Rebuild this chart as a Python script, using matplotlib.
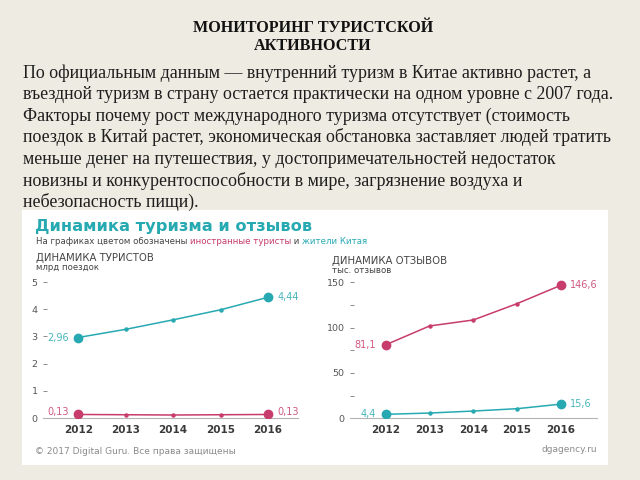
#!/usr/bin/env python
# -*- coding: utf-8 -*-

"""
Мониторинг туристской активности: слайд с двумя линейными графиками
"""

import matplotlib.pyplot as plt
from matplotlib.patches import Rectangle

# 数据
years = [2012, 2013, 2014, 2015, 2016]
tourists_china = [2.96, 3.26, 3.61, 3.98, 4.44]      # жители Китая, млрд поездок
tourists_foreign = [0.13, 0.12, 0.11, 0.12, 0.13]    # иностранные туристы
reviews_foreign = [81.1, 101.8, 108.4, 126.4, 146.6]  # тыс. отзывов
reviews_china = [4.4, 5.8, 8.0, 10.6, 15.6]

title_lines = ['МОНИТОРИНГ ТУРИСТСКОЙ', 'АКТИВНОСТИ']
body_lines = [
    'По официальным данным — внутренний туризм в Китае активно растет, а',
    'въездной туризм в страну остается практически на одном уровне с 2007 года.',
    'Факторы почему рост международного туризма отсутствует (стоимость',
    'поездок в Китай растет, экономическая обстановка заставляет людей тратить',
    'меньше денег на путешествия, у достопримечательностей недостаток',
    'новизны и конкурентоспособности в мире, загрязнение воздуха и',
    'небезопасность пищи).',
]

BG = '#eeebe2'
TEAL = '#27a9b1'
PINK = '#c73c6c'
GRAY = '#8a8a8a'
W, H = 640, 480


def fx(px):
    return px / W


def fy(py):
    return 1 - py / H


def draw_series(ax, x, y, color, lbl_left, lbl_right, dy_left=0, dy_right=0):
    ax.plot(x, y, '-', color=color, lw=1.1, zorder=2)
    ax.plot(x[1:-1], y[1:-1], 'o', color=color, ms=2.2, zorder=3)
    ax.plot([x[0], x[-1]], [y[0], y[-1]], 'o', color=color, ms=6, zorder=4)
    ax.annotate(lbl_left, (x[0], y[0]), xytext=(-7, dy_left), textcoords='offset points',
                ha='right', va='center', color=color, fontsize=7, alpha=0.85)
    ax.annotate(lbl_right, (x[-1], y[-1]), xytext=(7, dy_right), textcoords='offset points',
                ha='left', va='center', color=color, fontsize=7, alpha=0.85)


def style_axes(ax):
    for s in ['top', 'right', 'left']:
        ax.spines[s].set_visible(False)
    ax.spines['bottom'].set_color('#b5b5b5')
    ax.spines['bottom'].set_linewidth(0.8)
    ax.set_facecolor('none')
    ax.set_zorder(2)
    ax.set_xticks(years)
    ax.set_xticklabels([str(v) for v in years], fontsize=7.5, color='#3a3a3a', fontweight='semibold')
    ax.tick_params(axis='x', length=0, pad=5)
    ax.tick_params(axis='y', which='both', direction='in', length=3, width=0.7,
                   color=GRAY, labelcolor='#555555', labelsize=6.8, pad=4)


fig = plt.figure(figsize=(6.4, 4.8), dpi=100)
fig.patch.set_facecolor(BG)

# 标题
fig.text(fx(313), fy(28), title_lines[0], ha='center', va='center', fontsize=11.6,
         fontweight='bold', family='Liberation Serif', color='#111111')
fig.text(fx(313), fy(46), title_lines[1], ha='center', va='center', fontsize=11.6,
         fontweight='bold', family='Liberation Serif', color='#111111')

# 正文
for i, line in enumerate(body_lines):
    fig.text(fx(23), fy(73 + i * 21.5), line, ha='left', va='center', fontsize=12.85,
             family='Liberation Serif', color='#1e1e1e')

# 白色面板
fig.patches.append(Rectangle((fx(22), fy(465)), fx(586), 255 / H, transform=fig.transFigure,
                             facecolor='white', edgecolor='none', zorder=-1))

fig.text(fx(35), fy(226), 'Динамика туризма и отзывов', ha='left', va='center',
         fontsize=11.7, fontweight='bold', color=TEAL, family='DejaVu Sans')
sub_size = 6.25
t1 = fig.text(fx(36), fy(242), 'На графиках цветом обозначены ', ha='left', va='center',
              fontsize=sub_size, color='#444444')
fig.canvas.draw()
rend = fig.canvas.get_renderer()
bb = t1.get_window_extent(renderer=rend)
t2 = fig.text(bb.x1 / W, fy(242), 'иностранные туристы', ha='left', va='center',
              fontsize=sub_size, color=PINK)
bb = t2.get_window_extent(renderer=rend)
t3 = fig.text(bb.x1 / W, fy(242), ' и ', ha='left', va='center', fontsize=sub_size, color='#444444')
bb = t3.get_window_extent(renderer=rend)
fig.text(bb.x1 / W, fy(242), 'жители Китая', ha='left', va='center', fontsize=sub_size, color=TEAL)

# 左图: динамика туристов
ax1 = fig.add_axes([fx(43), fy(418), fx(298 - 43), (418 - 276.6) / H])
style_axes(ax1)
ax1.set_xlim(2011.26, 2016.63)
ax1.set_ylim(0, 5.2)
ax1.set_yticks([0, 1, 2, 3, 4, 5])
draw_series(ax1, years, tourists_china, TEAL, '2,96', '4,44')
draw_series(ax1, years, tourists_foreign, PINK, '0,13', '0,13', dy_left=2, dy_right=2)
fig.text(fx(36), fy(258), 'ДИНАМИКА ТУРИСТОВ', ha='left', va='center', fontsize=7.3, color='#444444')
fig.text(fx(36), fy(267.5), 'млрд поездок', ha='left', va='center', fontsize=6.1, color='#444444')

# 右图: динамика отзывов
ax2 = fig.add_axes([fx(350), fy(418.3), fx(597 - 350), (418.3 - 275) / H])
style_axes(ax2)
ax2.set_xlim(2011.18, 2016.83)
ax2.set_ylim(0, 158)
ax2.set_yticks([0, 50, 100, 150])
ax2.set_yticks([25, 75, 125], minor=True)
draw_series(ax2, years, reviews_foreign, PINK, '81,1', '146,6')
draw_series(ax2, years, reviews_china, TEAL, '4,4', '15,6')
fig.text(fx(332), fy(261), 'ДИНАМИКА ОТЗЫВОВ', ha='left', va='center', fontsize=7.3, color='#444444')
fig.text(fx(332), fy(270.5), 'тыс. отзывов', ha='left', va='center', fontsize=6.2, color='#444444')

# 页脚
fig.text(fx(35), fy(451), '© 2017 Digital Guru. Все права защищены', ha='left', va='center',
         fontsize=6.5, color='#8a8a8a')
fig.text(fx(597), fy(450), 'dgagency.ru', ha='right', va='center', fontsize=6.5, color='#8a8a8a')

plt.savefig('out.png', dpi=100, facecolor=BG)
